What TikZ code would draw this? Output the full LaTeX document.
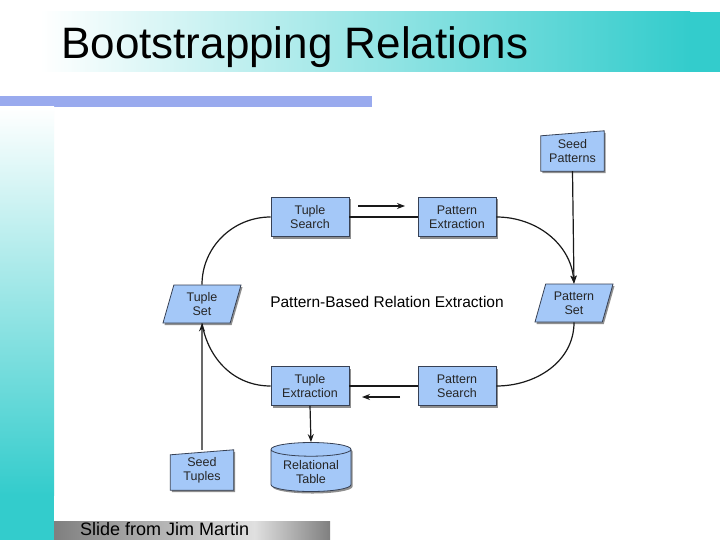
\documentclass[tikz,border=0pt]{standalone}
\usepackage{fontspec}
\setmainfont{Liberation Sans}
\usetikzlibrary{arrows.meta, positioning, shapes.geometric, shadows, backgrounds, calc}

\definecolor{slideteal}{RGB}{51,204,204}
\definecolor{slidebar}{RGB}{153,170,238}
\definecolor{boxblue}{RGB}{164,200,248}
\definecolor{boxline}{RGB}{55,65,85}

\tikzset{
  boxshadow/.style={drop shadow={shadow xshift=1.5pt, shadow yshift=-2pt, opacity=0.55, fill=black!80}},
  boxtext/.style={align=center, text=black!85, font=\fontsize{12.5}{14}\selectfont},
  proc/.style={boxtext, draw=boxline, fill=boxblue, line width=0.8pt, boxshadow,
    minimum width=78pt, minimum height=39pt},
  dataset/.style={boxtext, trapezium, trapezium left angle=70, trapezium right angle=110,
    trapezium stretches body, draw=boxline, fill=boxblue, line width=0.8pt, boxshadow,
    minimum height=38pt, minimum width=78pt, inner xsep=2pt},
  seedbox/.style={boxtext, minimum width=63pt, minimum height=40pt},
  seedfill/.style={draw=boxline, fill=boxblue, line width=0.8pt, boxshadow},
  store/.style={boxtext, cylinder, shape border rotate=90, aspect=0.22, draw=boxline,
    fill=boxblue, line width=0.8pt, boxshadow, minimum width=80pt, minimum height=49pt},
  link/.style={line width=1.2pt, black!90},
  flow/.style={link, -{Stealth[length=8pt, width=6pt]}},
}

\begin{document}
\begin{tikzpicture}[x=1pt, y=-1pt]

	\useasboundingbox (0,0) rectangle (720,540);

	% slide background
	\begin{scope}[on background layer]
		\fill[white] (0,0) rectangle (720,540);
		\shade[left color=white, right color=slideteal] (40,12) rectangle (690,72);
		\fill[slideteal] (689,12) rectangle (720,72);
		\fill[slidebar] (0,96) rectangle (372,107);
		\shade[top color=white, bottom color=slideteal] (0,107) rectangle (54,495);
		\fill[slideteal] (0,494) rectangle (54,540);
		\shade[left color=black!50, right color=black!12] (54,521) rectangle (255,540);
		\shade[left color=black!12, right color=black!50] (254,521) rectangle (330,540);
	\end{scope}

	\node[anchor=base west, inner sep=0pt, font=\fontsize{44}{48}\selectfont] (title) at (61,59) {Bootstrapping Relations};
	\node[anchor=base west, inner sep=0pt, font=\fontsize{18}{20}\selectfont] (credit) at (80,535) {Slide from Jim Martin};

	% process boxes
	\node[proc] (tsearch) at (310,217) {Tuple\\Search};
	\node[proc] (pextr) at (457,217) {Pattern\\Extraction};
	\node[proc] (textr) at (310,386) {Tuple\\Extraction};
	\node[proc] (psearch) at (457,386) {Pattern\\Search};

	% data sets
	\node[dataset] (tset) at (202,304) {Tuple\\Set};
	\node[dataset] (pset) at (574,303) {Pattern\\Set};
	\node[store] (rtable) at (311,472) {Relational\\Table};

	% seeds (manual input)
	\node[seedbox] (seedp) at (572.5,151) {Seed\\Patterns};
	\node[seedbox] (seedt) at (202,470) {Seed\\Tuples};
	\begin{scope}[on background layer]
		\filldraw[seedfill] (seedp.south west) -- (seedp.south east) -- (seedp.north east) -- ([yshift=-5pt]seedp.north west) -- cycle;
		\filldraw[seedfill] (seedt.south west) -- (seedt.south east) -- (seedt.north east) -- ([yshift=-5pt]seedt.north west) -- cycle;
	\end{scope}

	\node[font=\fontsize{15.5}{18}\selectfont] (loop) at (387,302) {Pattern-Based Relation Extraction};

	% the loop
	\draw[link] (tsearch.east) -- (pextr.west);
	\draw[flow] (pextr.east) to[out=0, in=95] (pset.north);
	\draw[flow] (seedp.south) -- (pset.north);
	\draw[link] (pset.south) to[out=-90, in=0] (psearch.east);
	\draw[link] (psearch.west) -- (textr.east);
	\draw[link] (textr.west) to[out=180, in=-80] (tset.south);
	\draw[flow] (seedt.north) -- (tset.south);
	\draw[link] (tset.north) to[out=90, in=180] (tsearch.west);
	\draw[flow] (textr.south) -- (rtable.north);

	% direction hints
	\coordinate (fwdA) at (358,206);
	\coordinate (fwdB) at (405,206);
	\coordinate (backA) at (400,397);
	\coordinate (backB) at (362,397);
	\draw[flow] (fwdA) -- (fwdB);
	\draw[flow] (backA) -- (backB);

\end{tikzpicture}
\end{document}
